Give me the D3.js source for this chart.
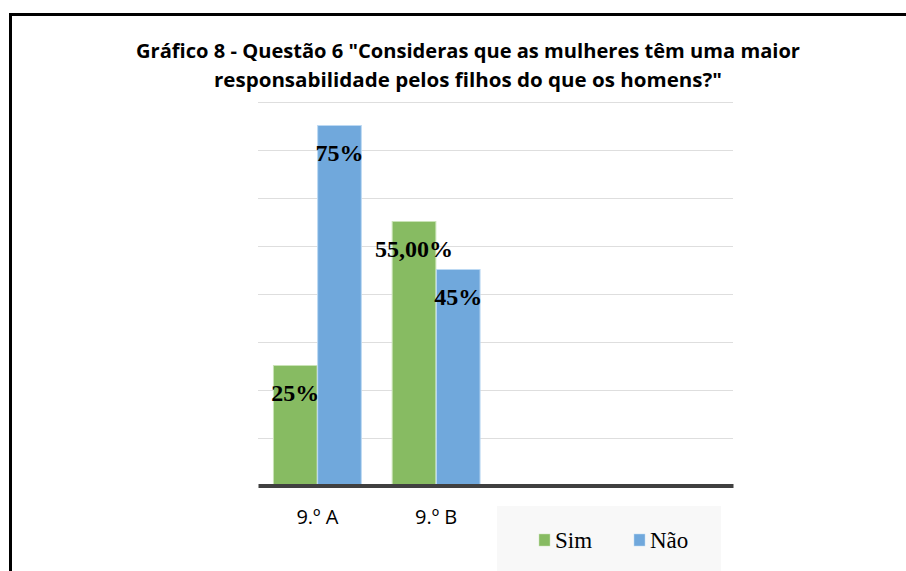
<!DOCTYPE html>
<html>
<head>
<meta charset="utf-8">
<script src="https://cdn.jsdelivr.net/npm/d3@7"></script>
<style>
  body { margin: 0; background: #fff; }
  svg { display: block; }
</style>
</head>
<body>
<svg id="chart" width="906" height="571"></svg>
<script>
// data
var categories = ["9.º A", "9.º B", "c3", "c4"]
var tickLabels = ["9.º A", "9.º B", "", ""]
var seriesNames = ["Sim", "Não"]
var simValues = [25, 55, null, null]
var naoValues = [75, 45, null, null]
var simLabels = ["25%", "55,00%", "", ""]
var naoLabels = ["75%", "45%", "", ""]
var yTicks = [0, 10, 20, 30, 40, 50, 60, 70, 80]

var colors = { "Sim": "#87bb62", "Não": "#70a8dc" }
var strokes = { "Sim": "#c9e3b6", "Não": "#bcd9f3" }

var svg = d3.select("#chart")

// outer frame
svg.append("rect")
    .attr("x", 10.5).attr("y", 14.5)
    .attr("width", 906).attr("height", 600)
    .attr("fill", "none")
    .attr("stroke", "#000")
    .attr("stroke-width", 3)

// title
var titleLines = [
    { text: "Gráfico 8 - Questão 6 \"Consideras que as mulheres têm uma maior", y: 58, len: 664 },
    { text: "responsabilidade pelos filhos do que os homens?\"", y: 87, len: 508 }
]
svg.selectAll(".title")
    .data(titleLines)
    .enter().append("text")
    .attr("class", "title")
    .attr("x", 468)
    .attr("y", function(d) { return d.y })
    .attr("text-anchor", "middle")
    .attr("textLength", function(d) { return d.len })
    .attr("lengthAdjust", "spacingAndGlyphs")
    .style("font-family", "'Open Sans', sans-serif")
    .style("font-weight", "bold")
    .style("font-size", "20px")
    .style("fill", "#000")
    .text(function(d) { return d.text })

// scales
var x = d3.scaleBand()
    .domain(categories)
    .range([258, 733])
    .paddingInner(0.26)
    .paddingOuter(0.13)

var xSub = d3.scaleBand()
    .domain(seriesNames)
    .range([0, x.bandwidth()])
    .paddingInner(0.012)

var y = d3.scaleLinear()
    .domain([0, 80])
    .range([485.5, 101.5])

// gridlines
svg.append("g")
    .selectAll("line")
    .data(yTicks.slice(1))
    .enter().append("line")
    .attr("x1", 258).attr("x2", 733)
    .attr("y1", function(d) { return Math.round(y(d)) + 0.5 })
    .attr("y2", function(d) { return Math.round(y(d)) + 0.5 })
    .attr("stroke", "#dedede")
    .attr("stroke-width", 1)

// bars
var rows = categories.map(function(c, i) {
    return [
        { cat: c, key: "Sim", value: simValues[i], label: simLabels[i] },
        { cat: c, key: "Não", value: naoValues[i], label: naoLabels[i] }
    ]
})
var flat = [].concat.apply([], rows).filter(function(d) { return d.value != null })

svg.append("g")
    .selectAll("rect")
    .data(flat)
    .enter().append("rect")
    .attr("x", function(d) { return x(d.cat) + xSub(d.key) })
    .attr("y", function(d) { return y(d.value) })
    .attr("width", xSub.bandwidth())
    .attr("height", function(d) { return y(0) - y(d.value) })
    .attr("fill", function(d) { return colors[d.key] })
    .attr("stroke", function(d) { return strokes[d.key] })
    .attr("stroke-width", 1)

// data labels (inside end)
svg.append("g")
    .selectAll("text")
    .data(flat)
    .enter().append("text")
    .attr("x", function(d) { return x(d.cat) + xSub(d.key) + xSub.bandwidth() / 2 })
    .attr("y", function(d) { return y(d.value) + 35 })
    .attr("text-anchor", "middle")
    .style("font-family", "'Liberation Serif', 'Times New Roman', serif")
    .style("font-weight", "bold")
    .style("font-size", "24px")
    .style("fill", "#000")
    .text(function(d) { return d.label })

// x axis
var xAxis = svg.append("g")
    .attr("transform", "translate(0," + y(0) + ")")
    .call(d3.axisBottom(x).tickSize(0).tickPadding(0)
        .tickFormat(function(d, i) { return tickLabels[i] }))
xAxis.select(".domain")
    .attr("stroke", "#404040")
    .attr("stroke-width", 4)
xAxis.selectAll(".tick text")
    .attr("dy", null)
    .attr("y", 38)
    .style("font-family", "'Open Sans', sans-serif")
    .style("font-size", "20px")
    .style("fill", "#000")

// legend
var legend = svg.append("g")
legend.append("rect")
    .attr("x", 497).attr("y", 506)
    .attr("width", 224).attr("height", 70)
    .attr("fill", "#f8f8f8")

var legendPos = { "Sim": 539, "Não": 634 }
var item = legend.selectAll(".item")
    .data(seriesNames)
    .enter().append("g")
    .attr("class", "item")
    .attr("transform", function(d) { return "translate(" + legendPos[d] + ",534)" })
item.append("rect")
    .attr("width", 11).attr("height", 12)
    .attr("fill", function(d) { return colors[d] })
    .attr("stroke", function(d) { return strokes[d] })
    .attr("stroke-width", 0.5)
item.append("text")
    .attr("x", 16)
    .attr("y", 14)
    .style("font-family", "'Liberation Serif', 'Times New Roman', serif")
    .style("font-size", "23px")
    .style("fill", "#000")
    .text(function(d) { return d })
</script>
</body>
</html>
